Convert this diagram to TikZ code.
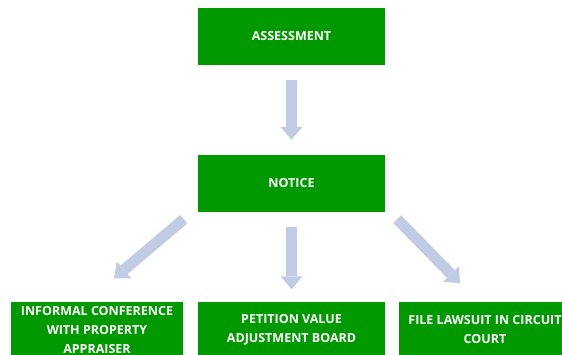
\documentclass[tikz,border=0pt]{standalone}
\usepackage{fontspec}
\setmainfont{Open Sans}
\usetikzlibrary{arrows.meta,calc}
\definecolor{boxgreen}{RGB}{0,153,0}
\definecolor{flowblue}{RGB}{192,203,230}
\begin{document}
\begin{tikzpicture}[x=1pt,y=-1pt,
        stage/.style={fill=boxgreen,text=white,minimum width=187pt,minimum height=57pt,inner sep=0pt,align=center,font=\fontsize{12.5}{19}\selectfont\bfseries},
        narrow/.style={stage,minimum width=172pt},
        flow/.style={draw=flowblue,line width=11pt,-{Triangle[width=22pt,length=13pt,line width=0pt]}}]
        \useasboundingbox (0,0) rectangle (562,355);
        \node[stage] (assess) at (291.5,36.5) {ASSESSMENT};
        \node[stage] (notice) at (291.5,183.5) {NOTICE};
        \node[narrow] (informal) at (97,330) {INFORMAL CONFERENCE\\WITH PROPERTY\\APPRAISER};
        \node[stage] (petition) at (291.5,330) {PETITION VALUE\\ADJUSTMENT BOARD};
        \node[narrow] (lawsuit) at (485,330) {FILE LAWSUIT IN CIRCUIT\\COURT};
        \draw[flow,shorten <=15pt,shorten >=15pt] (assess) -- (notice);
        \draw[flow,shorten <=15pt,shorten >=12pt] (notice) -- (petition);
        \draw[flow] ($(notice.south west)+(-14,7)$) -- ($(informal.north)+(17,-23)$);
        \draw[flow] ($(notice.south east)+(12,7)$) -- ($(lawsuit.north)+(-25,-18)$);
\end{tikzpicture}
\end{document}
